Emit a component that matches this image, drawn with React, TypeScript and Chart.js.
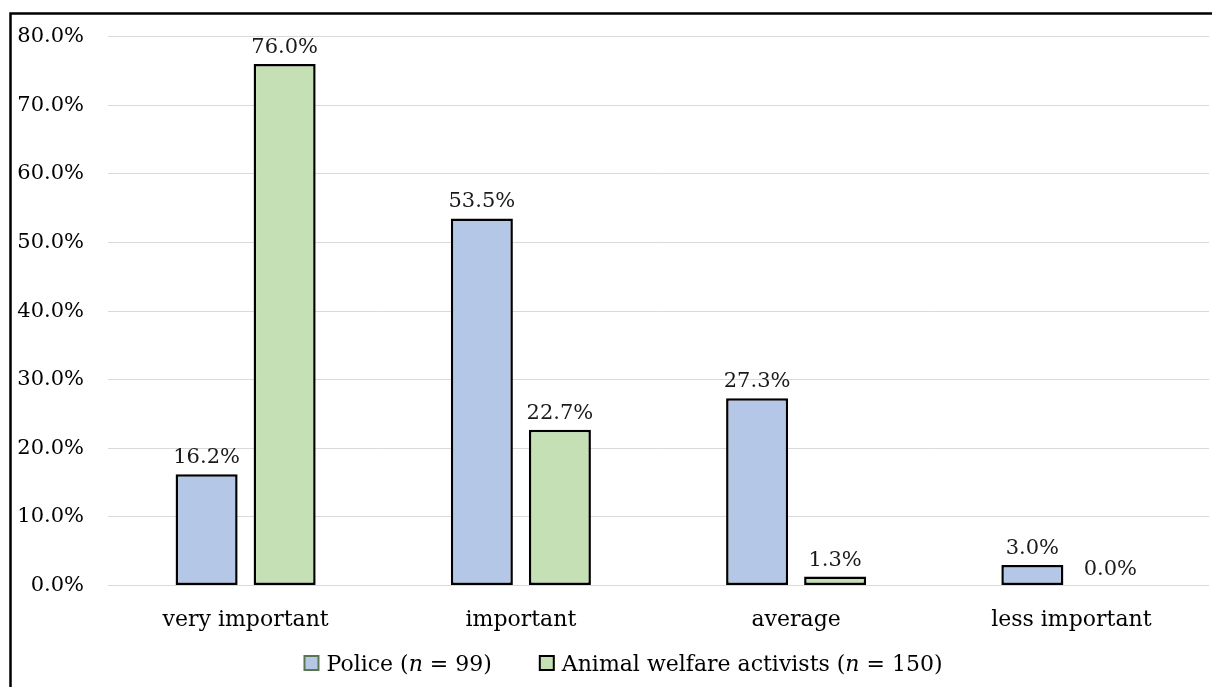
import React, { useEffect, useRef } from "react";
import { Chart, registerables } from "chart.js";

Chart.register(...registerables);

const categories = ["very important", "important", "average", "less important"];
const policeValues = [16.2, 53.5, 27.3, 3.0];
const activistValues = [76.0, 22.7, 1.3, 0.0];
const yTicks = [0, 10, 20, 30, 40, 50, 60, 70, 80];

const FONT = "'DejaVu Serif', serif";
const BLUE = "#b4c7e7";
const GREEN = "#c5e0b4";

const legendItems = [
  { parts: ["Police (", "n", " = 99)"], fill: BLUE, stroke: "#5b7550" },
  { parts: ["Animal welfare activists (", "n", " = 150)"], fill: GREEN, stroke: "#000000" },
];

// Percentage labels above every bar
const valueLabels = {
  id: "valueLabels",
  afterDatasetsDraw(chart: any) {
    const ctx = chart.ctx;
    ctx.save();
    ctx.font = `21px ${FONT}`;
    ctx.fillStyle = "#1a1a1a";
    ctx.textAlign = "center";
    ctx.textBaseline = "alphabetic";
    chart.data.datasets.forEach((ds: any, i: number) => {
      const meta = chart.getDatasetMeta(i);
      meta.data.forEach((bar: any, j: number) => {
        const v = ds.data[j] as number;
        ctx.fillText(v.toFixed(1) + "%", bar.x, bar.y - 11);
      });
    });
    ctx.restore();
  },
};

// Legend with italic "n" and the outer frame line
const legendAndFrame = {
  id: "legendAndFrame",
  afterDraw(chart: any) {
    const ctx = chart.ctx;
    ctx.save();
    const normal = `22px ${FONT}`;
    const italic = `italic 22px ${FONT}`;
    const widthOf = (parts: string[]) =>
      parts.reduce((w, p, k) => {
        ctx.font = k === 1 ? italic : normal;
        return w + ctx.measureText(p).width;
      }, 0);
    const box = 14;
    const boxGap = 8;
    const itemGap = 48;
    const widths = legendItems.map((it) => widthOf(it.parts));
    const total = widths.reduce((a, w) => a + box + boxGap + w, 0) + itemGap * (legendItems.length - 1);
    let x = 623.5 - total / 2;
    const baseline = 671;
    legendItems.forEach((it, i) => {
      ctx.fillStyle = it.fill;
      ctx.fillRect(x, 656, box, box);
      ctx.strokeStyle = it.stroke;
      ctx.lineWidth = 2;
      ctx.strokeRect(x, 656, box, box);
      let tx = x + box + boxGap;
      ctx.fillStyle = "#000";
      ctx.textAlign = "left";
      ctx.textBaseline = "alphabetic";
      it.parts.forEach((p, k) => {
        ctx.font = k === 1 ? italic : normal;
        ctx.fillText(p, tx, baseline);
        tx += ctx.measureText(p).width;
      });
      x += box + boxGap + widths[i] + itemGap;
    });

    ctx.strokeStyle = "#000";
    ctx.lineWidth = 2.5;
    ctx.beginPath();
    ctx.moveTo(10.5, chart.height);
    ctx.lineTo(10.5, 13.5);
    ctx.lineTo(chart.width, 13.5);
    ctx.stroke();
    ctx.restore();
  },
};

export default function App() {
  const ref = useRef<HTMLCanvasElement>(null);

  useEffect(() => {
    if (!ref.current) return;
    const chart = new Chart(ref.current, {
      type: "bar",
      data: {
        labels: categories,
        datasets: [
          {
            label: "Police (n = 99)",
            data: policeValues,
            backgroundColor: BLUE,
            borderColor: "#000",
            borderWidth: 2.5,
            borderSkipped: false,
            categoryPercentage: 0.567,
            barPercentage: 0.795,
          },
          {
            label: "Animal welfare activists (n = 150)",
            data: activistValues,
            backgroundColor: GREEN,
            borderColor: "#000",
            borderWidth: 2.5,
            borderSkipped: false,
            categoryPercentage: 0.567,
            barPercentage: 0.795,
          },
        ],
      },
      options: {
        responsive: false,
        animation: false,
        layout: { padding: { top: 36, right: 3, left: 0, bottom: 0 } },
        plugins: {
          legend: { display: false },
          tooltip: { enabled: false },
        },
        scales: {
          x: {
            offset: true,
            grid: { display: false },
            border: { display: false },
            ticks: {
              font: { family: FONT, size: 22 },
              color: "#000",
              padding: 14,
              maxRotation: 0,
              autoSkip: false,
            },
            afterFit(scale: any) {
              scale.height = 101.5;
            },
          },
          y: {
            min: yTicks[0],
            max: yTicks[yTicks.length - 1],
            afterBuildTicks(scale: any) {
              scale.ticks = yTicks.map((v) => ({ value: v }));
            },
            grid: { color: "#d9d9d9", lineWidth: 1, drawTicks: false },
            border: { display: false },
            ticks: {
              font: { family: FONT, size: 21 },
              color: "#000",
              padding: 24,
              callback: (v: any) => Number(v).toFixed(1) + "%",
            },
            afterFit(scale: any) {
              scale.width = 108;
            },
          },
        },
      },
      plugins: [valueLabels, legendAndFrame],
    });
    return () => chart.destroy();
  }, []);

  return (
    <div style={{ position: "fixed", left: 0, top: 0, width: 1212, height: 687, background: "#fff" }}>
      <canvas ref={ref} width={1212} height={687} style={{ display: "block" }} />
    </div>
  );
}
